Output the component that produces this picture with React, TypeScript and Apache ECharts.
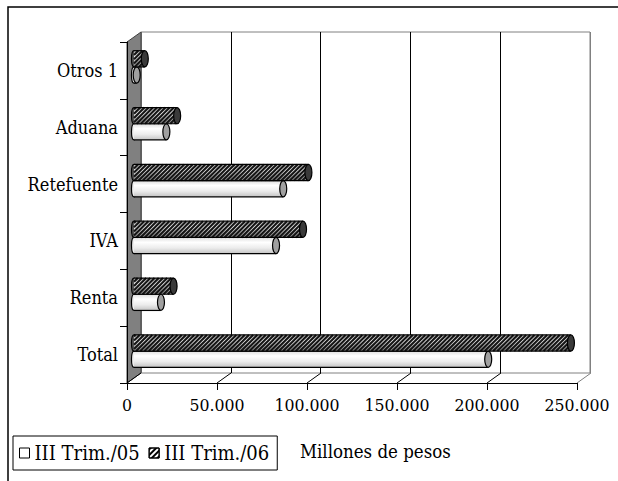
import React, { useEffect, useRef } from "react";
import * as echarts from "echarts";

const categories = ["Total", "Renta", "IVA", "Retefuente", "Aduana", "Otros 1"];
const trim05 = [197000, 15000, 79000, 83000, 18000, 1500];
const trim06 = [243000, 22000, 94000, 97000, 24000, 6000];
const xTicks = [0, 50000, 100000, 150000, 200000, 250000];
const seriesNames = ["III Trim./05", "III Trim./06"];
const unitLabel = "Millones de pesos";

const FONT = "'DejaVu Serif Condensed', 'DejaVu Serif', serif";
const FRONT = { left: 127, top: 42, width: 450, height: 341 };
const BACK = { left: 141, top: 32, width: 449, height: 341 };
const MID = { left: 134, top: 38.5, width: 449.5, height: 341 };

const fmt = (v: number) => String(v).replace(/\B(?=(\d{3})+(?!\d))/g, ".");

function barRenderer(kind: "white" | "hatch") {
  return (params: any, api: any) => {
    const cat = api.value(0);
    const val = api.value(1);
    const s = api.coord([0, cat]);
    const e = api.coord([val, cat]);
    const band = api.size([0, 1])[1];
    const h = band * 0.285;
    const yc = s[1];
    const y1 = kind === "hatch" ? yc - h : yc;
    const y2 = y1 + h;
    const x0 = s[0];
    const xv = e[0];
    const w = Math.max(xv - x0, 0.5);
    const ym = (y1 + y2) / 2;
    const children: any[] = [];
    const mkFill = () =>
      kind === "white"
        ? new echarts.graphic.LinearGradient(0, 0, 0, 1, [
            { offset: 0, color: "#dcdcdc" },
            { offset: 0.3, color: "#ffffff" },
            { offset: 0.65, color: "#ececec" },
            { offset: 1, color: "#c4c4c4" },
          ])
        : new echarts.graphic.LinearGradient(0, 0, 0, 1, [
            { offset: 0, color: "#b0b0b0" },
            { offset: 0.35, color: "#f4f4f4" },
            { offset: 1, color: "#808080" },
          ]);
    children.push({
      type: "ellipse",
      shape: { cx: x0, cy: ym, rx: 2.5, ry: h / 2 },
      style: { fill: kind === "white" ? "#eeeeee" : "#555555", stroke: "#000", lineWidth: 1.2 },
    });
    children.push({
      type: "rect",
      shape: { x: x0, y: y1, width: w, height: h },
      style: { fill: mkFill(), stroke: "none" },
    });
    if (kind === "hatch") {
      const step = 4.2;
      let c = Math.ceil((x0 + y1) / step) * step;
      for (; c <= xv + y2; c += step) {
        let ax = c - y2, ay = y2;
        if (ax < x0) { ax = x0; ay = c - x0; }
        let bx = c - y1, by = y1;
        if (bx > xv) { bx = xv; by = c - xv; }
        if (ax <= bx && ay >= by) {
          children.push({
            type: "line",
            shape: { x1: ax, y1: ay, x2: bx, y2: by },
            style: { stroke: "#151515", lineWidth: 2.1 },
          });
        }
      }
    }
    children.push({
      type: "line",
      shape: { x1: x0, y1: y1, x2: xv, y2: y1 },
      style: { stroke: "#000", lineWidth: 1.2 },
    });
    children.push({
      type: "line",
      shape: { x1: x0, y1: y2, x2: xv, y2: y2 },
      style: { stroke: "#000", lineWidth: 1.2 },
    });
    children.push({
      type: "ellipse",
      shape: { cx: xv, cy: ym, rx: 3.5, ry: h / 2 },
      style: {
        fill: kind === "white" ? "#a0a0a0" : "#3a3a3a",
        stroke: "#000",
        lineWidth: 1.2,
      },
    });
    return { type: "group", children };
  };
}

export default function App() {
  const ref = useRef<HTMLDivElement>(null);
  useEffect(() => {
    if (!ref.current) return;
    const chart = echarts.init(ref.current, null, { renderer: "svg" });
    const gridCommon = { outerBoundsMode: "none", containLabel: false } as any;
    chart.setOption({
      animation: false,
      backgroundColor: "#ffffff",
      textStyle: { fontFamily: FONT },
      grid: [
        { ...gridCommon, ...BACK, show: true, borderColor: "#808080", borderWidth: 1, backgroundColor: "transparent" },
        { ...gridCommon, ...MID },
        { ...gridCommon, ...FRONT },
      ],
      xAxis: [
        {
          gridIndex: 0, type: "value", min: 0, max: 250000, interval: 50000,
          axisLine: { show: false }, axisTick: { show: false }, axisLabel: { show: false },
          splitLine: { show: true, lineStyle: { color: ["#808080", "#000", "#000", "#000", "#000", "#808080"], width: 1 } },
        },
        {
          gridIndex: 1, type: "value", min: 0, max: 250000, interval: 50000, show: false,
        },
        {
          gridIndex: 2, type: "value", min: 0, max: 250000, interval: 50000, z: 5,
          axisLine: { show: true, lineStyle: { color: "#000", width: 1 } },
          axisTick: { show: true, inside: false, length: 7, lineStyle: { color: "#000" } },
          splitLine: { show: false },
          axisLabel: { show: true, formatter: (v: number) => fmt(v), color: "#000", fontSize: 17.5, fontFamily: FONT, margin: 13 },
        },
      ],
      yAxis: [
        { gridIndex: 0, type: "category", data: categories, show: false },
        { gridIndex: 1, type: "category", data: categories, show: false },
        {
          gridIndex: 2, type: "category", data: categories, z: 5,
          axisLine: { show: true, lineStyle: { color: "#000", width: 1 } },
          axisTick: { show: true, length: 7, lineStyle: { color: "#000" } },
          axisLabel: { color: "#000", fontSize: 18, fontFamily: FONT, margin: 9 },
        },
      ],
      legend: {
        show: true,
        left: 13,
        top: 436,
        orient: "horizontal",
        borderColor: "#000",
        borderWidth: 1,
        padding: [7, 8, 7, 6],
        itemWidth: 10,
        itemHeight: 10,
        itemGap: 9,
        textStyle: { color: "#000", fontSize: 20, fontFamily: FONT },
        data: [
          { name: seriesNames[0], icon: "rect", itemStyle: { color: "#ffffff", borderColor: "#000", borderWidth: 1 } },
          {
            name: seriesNames[1], icon: "rect",
            itemStyle: {
              color: "#ffffff", borderColor: "#000", borderWidth: 1,
              decal: { symbol: "rect", symbolSize: 1, dashArrayX: [1, 0], dashArrayY: [2, 2], rotation: -Math.PI / 4, color: "#000" },
            },
          },
        ],
      },
      graphic: [
        {
          type: "rect", z: 0, silent: true,
          shape: { x: 8, y: 7, width: 700, height: 600 },
          style: { fill: "none", stroke: "#000", lineWidth: 1.5 },
        },
        {
          type: "polygon", z: 1, silent: true,
          shape: {
            points: [
              [FRONT.left, FRONT.top],
              [BACK.left, BACK.top],
              [BACK.left, BACK.top + BACK.height],
              [FRONT.left, FRONT.top + FRONT.height],
            ],
          },
          style: { fill: "#808080", stroke: "#404040", lineWidth: 1 },
        },
        {
          type: "text", left: 300, top: 442, silent: true,
          style: { text: unitLabel, fill: "#000", font: `18.5px ${FONT}` },
        },
      ],
      series: [
        {
          type: "custom",
          name: "floor",
          xAxisIndex: 2,
          yAxisIndex: 2,
          z: 2,
          silent: true,
          data: xTicks.map((v) => [v, 0]),
          encode: { x: 0, y: 1 },
          renderItem: (params: any, api: any) => {
            const v = api.value(0);
            const p = api.coord([v, 0]);
            const cs = params.coordSys;
            const yb = cs.y + cs.height;
            const last = v === xTicks[xTicks.length - 1];
            return {
              type: "line",
              shape: { x1: p[0], y1: yb, x2: p[0] + (BACK.left - FRONT.left), y2: yb - (FRONT.top - BACK.top) },
              style: { stroke: last ? "#808080" : "#000", lineWidth: 1 },
            };
          },
        },
        {
          type: "custom",
          name: seriesNames[0],
          xAxisIndex: 1,
          yAxisIndex: 1,
          z: 6,
          data: categories.map((c, i) => [i, trim05[i]]),
          encode: { y: 0, x: 1 },
          itemStyle: { color: "#ffffff" },
          renderItem: barRenderer("white"),
        },
        {
          type: "custom",
          name: seriesNames[1],
          xAxisIndex: 1,
          yAxisIndex: 1,
          z: 6,
          data: categories.map((c, i) => [i, trim06[i]]),
          encode: { y: 0, x: 1 },
          itemStyle: { color: "#555555" },
          renderItem: barRenderer("hatch"),
        },
      ],
    });
    return () => chart.dispose();
  }, []);
  return (
    <div
      ref={ref}
      style={{ position: "fixed", left: 0, top: 0, width: 618, height: 481 }}
    />
  );
}
